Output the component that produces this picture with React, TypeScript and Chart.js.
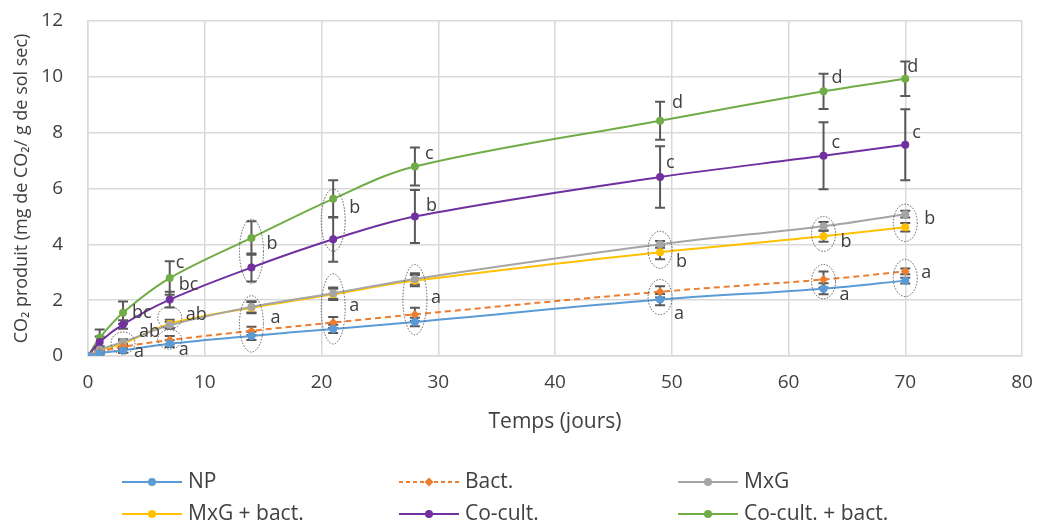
import React, { useEffect, useRef } from "react";
import { Chart, registerables } from "chart.js";

Chart.register(...registerables);

// ---- Data ----
const days = [0, 1, 3, 7, 14, 21, 28, 49, 63, 70];
const seriesNames = ["NP", "Bact.", "MxG", "MxG + bact.", "Co-cult.", "Co-cult. + bact."];
const npValues = [0, 0.1, 0.2, 0.44, 0.72, 0.97, 1.22, 2.02, 2.41, 2.7];
const bactValues = [0, 0.15, 0.33, 0.57, 0.9, 1.2, 1.49, 2.3, 2.74, 3.03];
const mxgValues = [0, 0.22, 0.5, 1.1, 1.76, 2.25, 2.76, 4.0, 4.65, 5.08];
const mxgBactValues = [0, 0.2, 0.45, 1.15, 1.73, 2.21, 2.7, 3.72, 4.29, 4.61];
const coCultValues = [0, 0.5, 1.13, 2.02, 3.17, 4.18, 5.0, 6.41, 7.17, 7.57];
const coCultBactValues = [0, 0.65, 1.55, 2.79, 4.23, 5.63, 6.79, 8.43, 9.48, 9.93];

const npErr = [0, 0.05, 0.08, 0.12, 0.15, 0.15, 0.15, 0.2, 0.2, 0.1];
const bactErr = [0, 0.05, 0.1, 0.15, 0.15, 0.2, 0.24, 0.2, 0.29, 0.1];
const mxgErr = [0, 0.05, 0.1, 0.12, 0.2, 0.2, 0.2, 0.12, 0.15, 0.12];
const mxgBactErr = [0, 0.05, 0.1, 0.15, 0.2, 0.2, 0.2, 0.25, 0.2, 0.15];
const coCultErr = [0, 0.2, 0.15, 0.28, 0.5, 0.8, 0.95, 1.1, 1.2, 1.27];
const coCultBactErr = [0, 0.3, 0.4, 0.6, 0.6, 0.67, 0.68, 0.68, 0.63, 0.62];

// significance letters (day, value level, text, pixel shift right)
const letterDays = [3, 3, 3, 7, 7, 7, 7, 14, 14, 21, 21, 28, 28, 28, 49, 49, 49, 49, 63, 63, 63, 63, 70, 70, 70, 70];
const letterLevels = [1.55, 0.86, 0.14, 3.32, 2.56, 1.48, 0.22, 4.0, 1.37, 5.3, 1.8, 7.24, 5.37, 2.09, 9.08, 6.92, 3.38, 1.52, 9.98, 7.64, 4.1, 2.2, 10.34, 8.0, 4.9, 2.99];
const letterTexts = ["bc", "ab", "a", "c", "bc", "ab", "a", "b", "a", "b", "a", "c", "b", "a", "d", "c", "b", "a", "d", "c", "b", "a", "d", "c", "b", "a"];
const letterShift = [15, 22, 17, 12, 15, 22, 15, 21, 25, 22, 22, 16, 17, 22, 18, 12, 22, 20, 14, 14, 23, 22, 8, 13, 25, 22];

// dotted groups (day, low, high)
const groupDays = [3, 7, 7, 14, 14, 21, 21, 28, 49, 49, 63, 63, 70, 70];
const groupLow = [0.07, 0.97, 0.25, 2.6, 0.14, 3.75, 0.43, 0.76, 3.14, 1.48, 3.75, 2.05, 4.1, 2.13];
const groupHigh = [0.86, 1.77, 0.94, 4.9, 2.16, 5.98, 2.95, 3.28, 4.47, 2.74, 5.0, 3.28, 5.44, 3.46];

const xTicksMax = 80;
const yTicksMax = 12;

const colors = ["#5B9BD5", "#ED7D31", "#A5A5A5", "#FFC000", "#7030A0", "#70AD47"];
const FONT = "'Open Sans', 'DejaVu Sans', sans-serif";
const TEXT = "#404040";

function zeroPadding(s: any) {
  s.paddingTop = 0;
  s.paddingBottom = 0;
  s.paddingLeft = 0;
  s.paddingRight = 0;
}

export default function App() {
  const canvasRef = useRef<HTMLCanvasElement | null>(null);

  useEffect(() => {
    document.body.style.margin = "0";
    const canvas = canvasRef.current;
    if (!canvas) return;
    const allValues = [npValues, bactValues, mxgValues, mxgBactValues, coCultValues, coCultBactValues];
    const allErr = [npErr, bactErr, mxgErr, mxgBactErr, coCultErr, coCultBactErr];

    const datasets = seriesNames.map((name, i) => ({
      label: name,
      data: days.map((d, j) => ({ x: d, y: allValues[i][j] })),
      borderColor: colors[i],
      backgroundColor: colors[i],
      borderWidth: 2,
      borderDash: i === 1 ? [6, 4] : [],
      pointStyle: i === 1 ? "rectRot" : "circle",
      pointRadius: i === 1 ? 4.5 : 4,
      pointBorderWidth: 0,
      tension: 0.35,
      fill: false,
    }));

    const extras = {
      id: "extras",
      beforeDatasetsDraw(chart: any) {
        const { ctx, scales } = chart;
        const xs = scales.x;
        const ys = scales.y;
        ctx.save();
        ctx.strokeStyle = "#595959";
        ctx.lineWidth = 2;
        allErr.forEach((errs, i) => {
          days.forEach((d, j) => {
            const e = errs[j];
            if (!e) return;
            const v = allValues[i][j];
            const px = xs.getPixelForValue(d);
            const top = ys.getPixelForValue(v + e);
            const bot = ys.getPixelForValue(v - e);
            ctx.beginPath();
            ctx.moveTo(px, top);
            ctx.lineTo(px, bot);
            ctx.moveTo(px - 5, top);
            ctx.lineTo(px + 5, top);
            ctx.moveTo(px - 5, bot);
            ctx.lineTo(px + 5, bot);
            ctx.stroke();
          });
        });
        ctx.restore();
      },
      afterDatasetsDraw(chart: any) {
        const { ctx, scales } = chart;
        const xs = scales.x;
        const ys = scales.y;
        ctx.save();
        ctx.strokeStyle = "#595959";
        ctx.lineWidth = 1;
        ctx.setLineDash([1.5, 1.5]);
        groupDays.forEach((d, k) => {
          const cx = xs.getPixelForValue(d);
          const y1 = ys.getPixelForValue(groupHigh[k]);
          const y2 = ys.getPixelForValue(groupLow[k]);
          ctx.beginPath();
          ctx.ellipse(cx, (y1 + y2) / 2, 12, Math.abs(y2 - y1) / 2, 0, 0, Math.PI * 2);
          ctx.stroke();
        });
        ctx.setLineDash([]);
        ctx.fillStyle = TEXT;
        ctx.font = `18px ${FONT}`;
        ctx.textAlign = "left";
        ctx.textBaseline = "middle";
        letterDays.forEach((d, k) => {
          ctx.fillText(letterTexts[k], xs.getPixelForValue(d) + letterShift[k] - 6, ys.getPixelForValue(letterLevels[k]));
        });
        ctx.restore();
      },
      afterDraw(chart: any) {
        const { ctx } = chart;
        const colX = [122, 399, 678];
        const rowY = [482, 514];
        ctx.save();
        ctx.font = `21px ${FONT}`;
        ctx.textBaseline = "middle";
        ctx.textAlign = "left";
        seriesNames.forEach((name, i) => {
          const x = colX[i % 3];
          const y = rowY[Math.floor(i / 3)];
          ctx.strokeStyle = colors[i];
          ctx.lineWidth = 2;
          ctx.setLineDash(i === 1 ? [4, 3] : []);
          ctx.beginPath();
          ctx.moveTo(x, y);
          ctx.lineTo(x + 60, y);
          ctx.stroke();
          ctx.setLineDash([]);
          ctx.fillStyle = colors[i];
          ctx.beginPath();
          if (i === 1) {
            ctx.moveTo(x + 30, y - 4.5);
            ctx.lineTo(x + 34.5, y);
            ctx.lineTo(x + 30, y + 4.5);
            ctx.lineTo(x + 25.5, y);
            ctx.closePath();
          } else {
            ctx.arc(x + 30, y, 4, 0, Math.PI * 2);
          }
          ctx.fill();
          ctx.fillStyle = TEXT;
          ctx.fillText(name, x + 66, y);
        });
        ctx.restore();
      },
    };

    const chart = new Chart(canvas, {
      type: "line",
      data: { datasets: datasets as any },
      options: {
        animation: false,
        responsive: false,
        maintainAspectRatio: false,
        layout: { autoPadding: false, padding: { left: 0, right: 19, top: 21, bottom: 87 } },
        plugins: { legend: { display: false }, tooltip: { enabled: false } },
        scales: {
          x: {
            type: "linear",
            min: 0,
            max: xTicksMax,
            afterFit: (s: any) => {
              s.height = 82;
              zeroPadding(s);
            },
            ticks: { stepSize: 10, padding: 15, color: TEXT, font: { family: FONT, size: 19 } },
            grid: { color: "#D9D9D9", lineWidth: 1.5, drawTicks: false },
            border: { color: "#D9D9D9", width: 1.5 },
            title: {
              display: true,
              text: "Temps (jours)",
              color: TEXT,
              font: { family: FONT, size: 21 },
              padding: { top: 0, bottom: 3 },
            },
          },
          y: {
            type: "linear",
            min: 0,
            max: yTicksMax,
            afterFit: (s: any) => {
              s.width = 88;
              zeroPadding(s);
            },
            ticks: { stepSize: 2, padding: 25, color: TEXT, font: { family: FONT, size: 19 } },
            grid: { color: "#D9D9D9", lineWidth: 1.5, drawTicks: false },
            border: { color: "#D9D9D9", width: 1.5 },
            title: {
              display: true,
              text: "CO₂ produit (mg de CO₂/ g de sol sec)",
              color: TEXT,
              font: { family: FONT, size: 18 },
              padding: { top: 11, bottom: 0 },
            },
          },
        },
      },
      plugins: [extras],
    });
    return () => chart.destroy();
  }, []);

  return (
    <div style={{ position: "fixed", left: 0, top: 0, width: 1041, height: 525, background: "#fff" }}>
      <canvas ref={canvasRef} width={1041} height={525} />
    </div>
  );
}
